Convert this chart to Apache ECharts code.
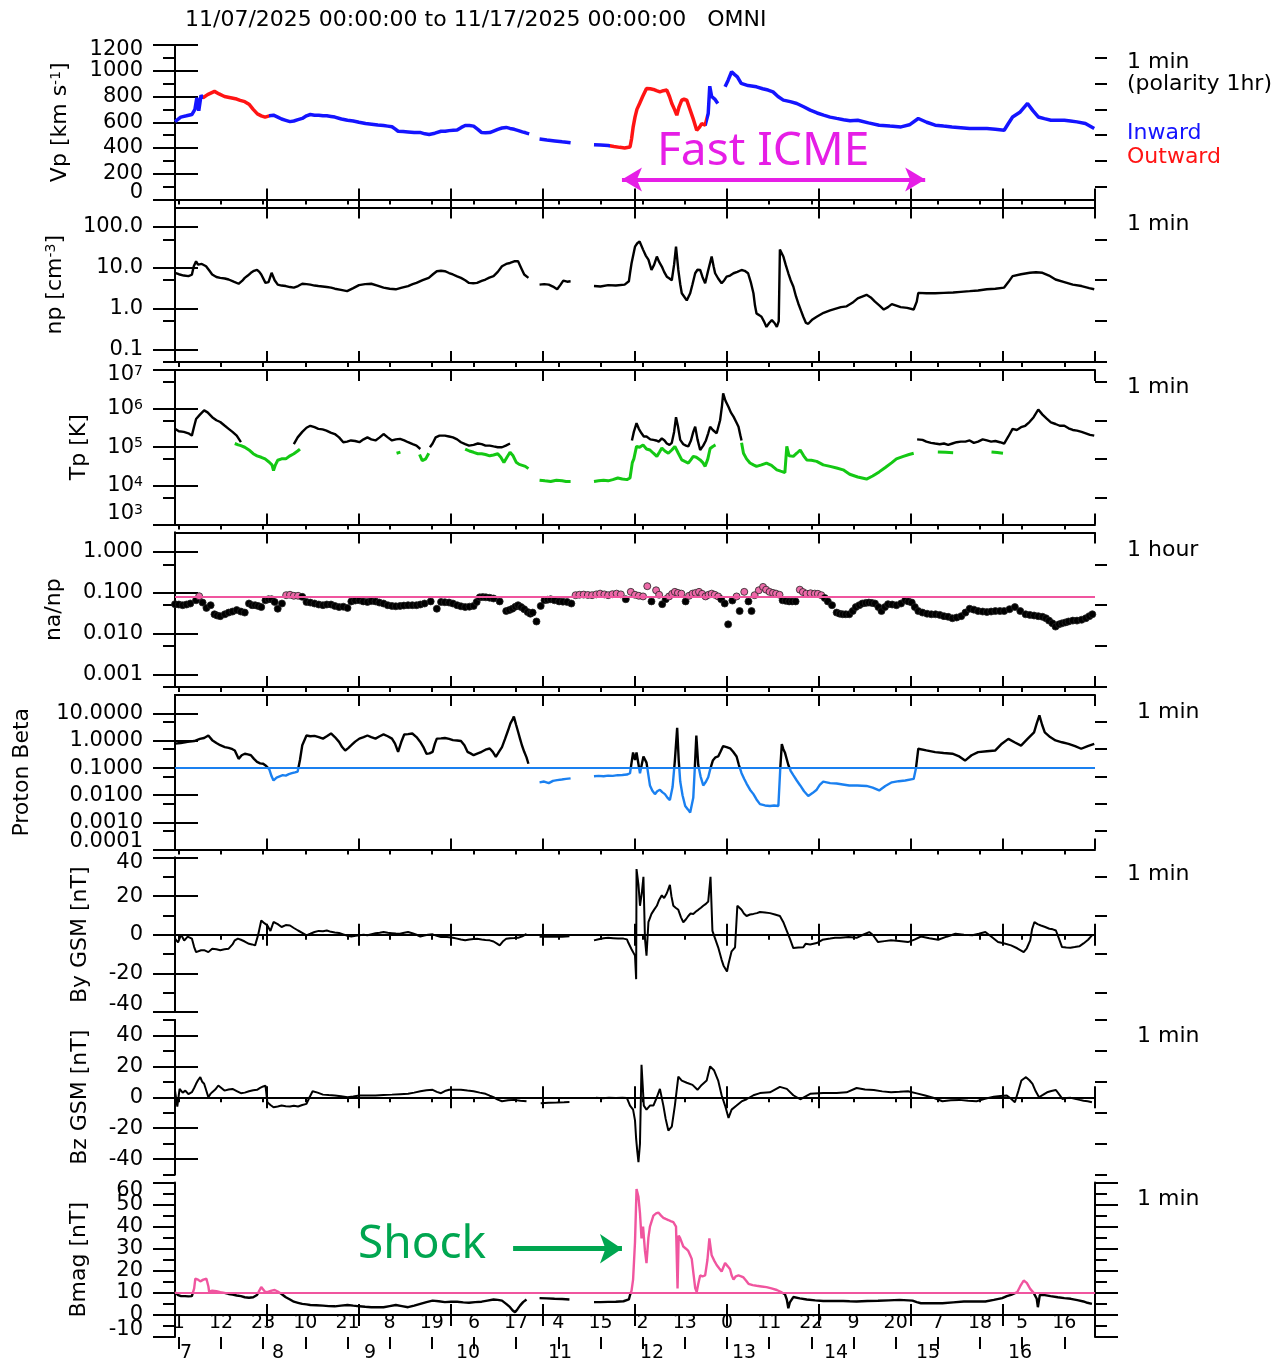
<!DOCTYPE html>
<html>
<head>
<meta charset="utf-8">
<script src="https://cdn.jsdelivr.net/npm/echarts@6.0.0/dist/echarts.min.js"></script>
<style>
html,body{margin:0;padding:0;background:#ffffff;}
#chart{width:1274px;height:1369px;}
</style>
</head>
<body>
<div id="chart"></div>
<script>
// ---------------- DATA (hours since 11/07/2025 00:00) ----------------
const dayTicks = [0, 24, 48, 72, 96, 120, 144, 168, 192, 216, 240];
const dayLabels = ['7', '8', '9', '10', '11', '12', '13', '14', '15', '16'];
const hourTicks = [1, 12, 23, 34, 45, 56, 67, 78, 89, 100, 111, 122, 133, 144, 155, 166, 177, 188, 199, 210, 221, 232];

const vpMajor = [0, 200, 400, 600, 800, 1000, 1200];
const vpMinor = [100, 300, 500, 700, 900, 1100];
const npMajor = [0.1, 1, 10, 100];
const npMinor = [0.05, 0.5, 5, 50];
const tpMajor = [1e3, 1e4, 1e5, 1e6, 1e7];
const tpMinor = [5e3, 5e4, 5e5, 5e6];
const naMajor = [0.001, 0.01, 0.1, 1];
const naMinor = [0.0005, 0.005, 0.05, 0.5];
const betaMajor = [0.0001, 0.001, 0.01, 0.1, 1, 10];
const betaMinor = [0.0005, 0.005, 0.05, 0.5, 5];
const byMajor = [-40, -20, 0, 20, 40];
const byMinor = [-30, -10, 10, 30];
const bzMajor = [-40, -20, 0, 20, 40];
const bzMinor = [-50, -30, -10, 10, 30, 50];
const bmagMajor = [-10, 0, 10, 20, 30, 40, 50, 60];
const bmagMinor = [-5, 5, 15, 25, 35, 45, 55];

const outwardSpans = [[7.3, 24.6], [113.5, 138.5]];
const naRef = 0.08;
const betaRef = 0.1;
const bmagRef = 10;
const icmeArrow = {from: 116.6, to: 195.7, level: 156};
const shockArrow = {from: 88.2, to: 116.6, level: 30};

const vpData = [
[0,605],[1.5,640],[3,650],[4.4,660],[5.2,700],[5.7,790],[6.2,690],[6.8,810],[7.3,790],[8.5,815],[10.3,840],[11.5,820],[12.9,800],[14.5,790],[16.1,780],[17,770],[18.2,760],[19.3,740],[20.4,700],[21.5,665],[22.5,650],[23.5,640],[24.6,650],[25.7,655],[26.8,640],[27.8,625],[28.9,615],[30,605],[31,610],[32.1,620],[33.2,630],[34.3,650],[35.3,660],[36.4,655],[37.5,655],[38.6,650],[39.6,650],[40.7,645],[41.7,640],[43.4,625],[45,615],[46.5,610],[48,600],[49.7,590],[51.3,585],[52.9,578],[54.4,575],[55.5,570],[56.6,565],[57.4,548],[58.2,530],[59.5,528],[60.8,525],[62.4,520],[64.1,520],[65.2,510],[66.3,505],[67.8,515],[69.4,530],[70.5,530],[71.5,535],[72.6,538],[73.6,540],[74.7,560],[75.7,575],[76.8,575],[77.9,570],[79,545],[80,520],[81,518],[82.1,520],[83.1,532],[84.2,545],[85.3,555],[86.4,560],[87.4,552],[88.5,545],[89.6,535],[90.6,525],[91.5,518],[92.4,510],[93,'-'],
[95.1,470],[97,462],[99.1,455],[101,448],[103.2,440],[104,'-'],
[109.3,425],[111,423],[113,420],[114.5,412],[116,405],[117.3,400],[118.7,408],[119.1,470],[119.5,560],[120,640],[120.5,700],[121.2,746],[122,800],[123,863],[124,860],[124.8,855],[125.6,845],[126.5,836],[127.4,845],[128.3,850],[129,800],[129.6,746],[130.3,700],[130.9,655],[131.5,720],[132.2,772],[132.8,780],[133.5,772],[134.4,694],[135.3,616],[136.1,538],[136.8,560],[137.4,590],[138.3,577],[139.1,668],[139.5,880],[140,800],[140.8,780],[141.6,746],[142,'-'],
[143.5,875],[144.3,927],[145.2,992],[146,970],[146.7,953],[147.7,902],[149.5,885],[151.7,875],[153.3,860],[154.7,850],[156,836],[157.3,800],[158.7,772],[160.5,760],[162.2,746],[164,720],[165.7,694],[167.5,672],[169.2,655],[170.9,640],[172.6,630],[174.4,620],[176.1,611],[178.1,616],[180.9,595],[183.7,577],[186.5,570],[189.4,564],[191.6,580],[193.9,629],[196.1,600],[198.3,577],[200.5,570],[202.7,564],[205,558],[207.3,551],[209.5,551],[211.8,551],[214,545],[216.3,538],[217.4,590],[218.5,641],[220.5,680],[222.4,746],[223.8,690],[225.2,641],[226.8,628],[228.5,616],[230.3,616],[232,616],[233.6,610],[235.3,603],[237.5,590],[239.8,551]
];

const npData = [
[0,7.6],[1,7],[2.3,6.5],[3.5,6.3],[4.4,6.8],[4.9,11],[5.5,14.5],[6,12],[7,12.5],[8.1,11],[9,8.5],[9.7,6.9],[10.8,6],[11.8,5.7],[13,5.5],[14,5.2],[15.3,4.6],[16.6,4.1],[17.5,4.8],[18.2,5.7],[19,6.5],[19.8,7.6],[20.6,8.5],[21.4,9],[22,8],[22.5,6.9],[23.6,4.3],[24.4,4.5],[25.2,7.6],[26,5],[26.8,3.9],[27.8,3.7],[28.9,3.6],[30,3.4],[31,3.3],[32.1,3.6],[33.2,4.1],[34.3,4],[35.3,3.9],[36.4,3.7],[37.4,3.6],[38.5,3.5],[39.6,3.4],[40.7,3.3],[41.7,3.1],[43.3,2.9],[44.9,2.7],[46.5,3.2],[48,3.8],[49.6,4],[51.2,4.1],[52.8,3.7],[54.4,3.3],[56,3.1],[57.6,3.0],[59.2,3.3],[60.8,3.6],[62,4],[63,4.3],[64.6,5],[66.2,5.7],[67.3,7],[68.3,8.3],[69.4,8.5],[70.4,8.3],[71.5,7.5],[72.5,6.9],[73.6,6.2],[74.6,5.7],[75.7,5],[76.7,4.3],[77.8,4.2],[78.8,4.3],[80,4.8],[81,5.2],[82,5.8],[83.1,6.3],[84.2,8],[85.3,11],[86.4,12.5],[87.4,13.2],[88.5,14.5],[89.5,14.5],[90.3,10],[91.1,6.9],[92.2,5.7],[93,'-'],
[95.1,3.9],[96.3,4],[97.5,3.9],[98.6,3.5],[99.7,3.0],[100.5,3.8],[101.3,4.9],[102.3,4.6],[103.2,4.7],[104,'-'],
[109.3,3.6],[111,3.5],[113,3.8],[115,3.7],[117.3,3.9],[118.4,4.7],[118.7,7.4],[119.1,13],[120,33],[120.6,40],[121.2,44],[122.1,28],[122.8,20],[123.5,16],[124.3,8.9],[125,12],[125.7,19],[126.3,14],[127,10.8],[127.6,8],[128.3,6.1],[129,5.5],[129.6,5],[130.2,12],[130.7,33],[131.3,8.9],[131.8,4],[132.2,2.4],[132.8,2],[133.5,1.6],[134.4,2.4],[135,4],[135.7,7.4],[136.3,9],[137,8.9],[137.6,6],[138.3,4.2],[139,8],[140,19],[140.5,11],[140.9,7.4],[141.7,5.5],[142.6,4.2],[143.3,5],[143.9,6.1],[144.8,6.5],[145.7,7.4],[146.7,8],[147.8,8.9],[148.6,8.5],[149.5,7.4],[150.2,4.5],[150.9,2.4],[151.3,1.2],[151.7,0.77],[152.4,0.7],[153,0.64],[153.6,0.5],[154.3,0.36],[155,0.45],[155.7,0.53],[156.4,0.45],[157,0.36],[157.5,0.5],[157.8,28],[158.7,19],[159.3,12],[160,7.4],[160.6,5],[161.3,3.5],[162,2],[162.6,1.35],[163.3,0.9],[163.9,0.64],[164.6,0.45],[165.2,0.43],[166.3,0.55],[167.4,0.64],[169.2,0.8],[170.9,0.92],[173.7,1.1],[175.2,1.15],[176.7,1.4],[178.1,1.8],[180.4,2.2],[181.5,1.9],[182.6,1.5],[183.8,1.2],[184.9,0.96],[186,1.1],[187,1.3],[189.3,1.1],[191,1.05],[192.7,0.96],[193.5,1.5],[193.9,2.45],[196,2.4],[198.3,2.4],[200.6,2.45],[203,2.5],[205,2.6],[207.3,2.7],[209.5,2.8],[211.8,3],[214,3.1],[216.3,3.3],[217.4,4.5],[218.5,6.3],[220.7,7],[223,7.6],[224.6,7.8],[226.3,7.6],[228,6.5],[229.7,5.2],[232,4.5],[234.2,3.9],[236.5,3.6],[238.5,3.2],[239.8,3.0]
];

const tpHot = [
[0,3e5],[1,2.6e5],[2.3,2.5e5],[3.5,2.3e5],[4.4,2.0e5],[5,3.5e5],[5.5,5.4e5],[6.5,7e5],[7.6,9e5],[8.5,8e5],[9.7,6e5],[10.8,5e5],[11.8,4.5e5],[13,3.6e5],[14,3e5],[15,2.5e5],[16.1,2e5],[17.2,1.35e5],[17.8,'-'],
[31,1.2e5],[32,1.8e5],[33.2,2.5e5],[34.3,3.2e5],[35.3,3.6e5],[36.4,3.3e5],[37.4,3.0e5],[38.5,2.9e5],[39.5,2.7e5],[40.6,2.4e5],[41.7,2.2e5],[42.8,1.8e5],[43.9,1.35e5],[44.9,1.4e5],[45.9,1.5e5],[47,1.45e5],[48.1,1.35e5],[49.2,1.6e5],[50.2,1.8e5],[51.2,1.6e5],[52.3,1.5e5],[53.4,1.8e5],[54.4,2.2e5],[55.5,1.8e5],[56.6,1.5e5],[57.6,1.6e5],[58.7,1.65e5],[59.8,1.5e5],[60.8,1.35e5],[62,1.2e5],[63,1.1e5],[64,0.9e5],[65,'-'],
[66.5,1e5],[67.2,1.25e5],[68,1.8e5],[69,2e5],[70.4,2e5],[71.5,1.9e5],[72.5,1.8e5],[73.6,1.6e5],[74.6,1.35e5],[75.7,1.2e5],[76.7,1.1e5],[77.9,1.15e5],[79,1.25e5],[80,1.2e5],[81,1.1e5],[82.1,1.1e5],[83.1,1.05e5],[84.2,1.0e5],[85.3,1.0e5],[86.3,1.1e5],[87.4,1.25e5],[88,'-'],
[119.2,1.5e5],[119.7,2.5e5],[120.4,4.2e5],[121,3e5],[121.7,2.3e5],[122.3,1.9e5],[123,1.9e5],[124,1.6e5],[124.8,1.55e5],[125.5,1.5e5],[126.2,1.4e5],[127,1.7e5],[127.7,1.5e5],[128.3,1.25e5],[129,1.15e5],[129.6,1.3e5],[130.2,2.5e5],[130.7,6e5],[131.2,3.5e5],[131.8,1.55e5],[132.6,1.2e5],[133.3,1.1e5],[133.9,1.05e5],[134.6,1.5e5],[135.2,2.5e5],[135.7,3.4e5],[136.3,1.6e5],[137,0.85e5],[137.8,1.1e5],[138.5,1.5e5],[139.1,2.3e5],[139.6,3.4e5],[140.3,2.8e5],[141.3,2.3e5],[142.2,5e5],[142.7,1.2e6],[143,2.5e6],[143.6,1.6e6],[144.4,1.1e6],[145,8e5],[145.7,6.2e5],[146.4,4.5e5],[147,3.4e5],[147.5,2e5],[147.8,1.5e5],[148.3,'-'],
[193.6,1.6e5],[194,1.7e5],[195,1.55e5],[196,1.4e5],[197.2,1.3e5],[198.3,1.25e5],[199.5,1.2e5],[200.6,1.25e5],[201.7,1.15e5],[202.8,1.25e5],[203.9,1.35e5],[205,1.4e5],[206.2,1.4e5],[207.3,1.5e5],[208.4,1.3e5],[209.5,1.4e5],[210.7,1.6e5],[211.8,1.5e5],[212.9,1.4e5],[214,1.45e5],[215.2,1.35e5],[216.3,1.25e5],[217.4,1.9e5],[218.5,3e5],[219.6,2.8e5],[220.7,3.3e5],[221.8,3.6e5],[222.9,4.5e5],[224,6e5],[225.2,9.5e5],[226.3,7e5],[227.4,5.5e5],[228.5,4.4e5],[229.7,4e5],[230.8,3.6e5],[232,3.6e5],[233.1,3.1e5],[234.2,2.8e5],[235.3,2.7e5],[236.5,2.5e5],[237.6,2.3e5],[238.7,2.1e5],[239.8,2e5]
];

const tpCold = [
[15.6,1.25e5],[16.5,1.15e5],[17.2,1.1e5],[18.2,1e5],[19.3,8.5e4],[20.4,6.8e4],[21.4,6e4],[22.5,5.5e4],[23.5,5e4],[24.6,4.1e4],[25.3,3.5e4],[25.7,2.5e4],[26.2,3.5e4],[26.8,4.6e4],[27.8,5e4],[28.9,5e4],[30,6e4],[31,6.8e4],[32,8e4],[32.6,9e4],[33,'-'],
[57.8,7e4],[58.8,7.5e4],[59.3,'-'],
[63.8,6.5e4],[64.5,4.5e4],[65.4,5e4],[66.2,7e4],[66.8,'-'],
[75.7,9e4],[76.8,8e4],[77.9,7.4e4],[79,6.8e4],[80,6.8e4],[81,6.5e4],[82.1,6e4],[83.1,6.3e4],[84.2,6.8e4],[85,5.5e4],[85.8,4e4],[86.6,5.5e4],[87.4,7.4e4],[88.2,6e4],[89,4.1e4],[89.8,3.6e4],[90.6,3.4e4],[91.4,3.2e4],[92.2,2.8e4],[93,'-'],
[95.1,1.4e4],[96.5,1.35e4],[98,1.3e4],[99.5,1.4e4],[101,1.35e4],[102,1.3e4],[103.2,1.3e4],[104,'-'],
[109.3,1.3e4],[110.5,1.35e4],[111.8,1.4e4],[113,1.35e4],[114.2,1.45e4],[115.5,1.6e4],[116.7,1.5e4],[117.9,1.45e4],[118.7,1.6e4],[119.3,4e4],[119.7,5e4],[120.4,1.05e5],[121.2,1.0e5],[122.1,1.15e5],[123,9e4],[123.9,8.5e4],[124.8,7e4],[125.7,5.8e4],[126.4,7.5e4],[127,9.5e4],[127.8,8e4],[128.7,7e4],[129.6,8.5e4],[130.4,1.05e5],[131.3,7e4],[132.2,4.7e4],[133,4.3e4],[133.9,3.9e4],[134.6,4.8e4],[135.2,5.8e4],[136,5.5e4],[137,4.7e4],[137.7,4e4],[138.3,3.2e4],[139,5e4],[139.6,9.3e4],[140.3,1.05e5],[141,1.15e5],[141.5,'-'],
[147.8,1.3e5],[148.3,7e4],[149.1,5e4],[150,3.9e4],[150.9,3.5e4],[151.7,3.2e4],[153,3.5e4],[154.3,3.9e4],[155.6,3.4e4],[157,2.6e4],[158,2.4e4],[159.1,2.2e4],[159.6,1.05e5],[160.2,6e4],[161.3,5.8e4],[162.2,7e4],[163.1,8.5e4],[164,6e4],[164.8,4.7e4],[166,4.6e4],[167.4,4.3e4],[169.1,3.5e4],[170.9,3.2e4],[172.6,2.9e4],[174.3,2.6e4],[176,2e4],[178.1,1.7e4],[180.4,1.5e4],[182,1.8e4],[183.7,2.3e4],[185.3,3e4],[187,4e4],[188.2,5e4],[190,5.8e4],[191.5,6.5e4],[192.7,7e4],[193.2,'-'],
[199,7.5e4],[201,7.4e4],[203,7.2e4],[205,'-'],
[213,7.5e4],[214.5,7.3e4],[216,7e4]
];

const naData = [
[0,0.053],[1,0.052],[2,0.05],[3,0.052],[4,0.055],[5.5,0.066],[6.3,0.083],[7.2,0.058],[8.2,0.043],[9.3,0.05],[10.3,0.03],[11,0.028],[11.8,0.027],[13,0.03],[14,0.033],[15,0.035],[16.1,0.038],[17.2,0.035],[18.2,0.033],[19.3,0.055],[20.1,0.05],[20.9,0.05],[21.7,0.048],[22.5,0.045],[23.6,0.066],[24.4,0.07],[25.2,0.07],[26,0.06],[26.8,0.041],[27.9,0.055],[29,0.088],[30,0.09],[31,0.085],[32.1,0.085],[33.2,0.08],[34.3,0.06],[35.3,0.058],[36.4,0.055],[37.5,0.052],[38.6,0.05],[39.6,0.052],[40.7,0.052],[41.7,0.048],[42.8,0.045],[43.9,0.046],[45,0.043],[46,0.062],[47,0.065],[48.1,0.066],[49.1,0.062],[50.2,0.06],[51.2,0.063],[52.3,0.062],[53.3,0.058],[54.4,0.055],[55.5,0.05],[56.6,0.048],[57.6,0.047],[58.7,0.048],[59.7,0.049],[60.8,0.05],[61.9,0.05],[63,0.05],[64,0.052],[65.1,0.055],[66.7,0.062],[68.3,0.041],[69.4,0.06],[70.4,0.059],[71.5,0.058],[72.5,0.055],[73.6,0.05],[74.6,0.047],[75.7,0.045],[76.8,0.046],[77.9,0.048],[78.7,0.06],[79.5,0.078],[80.3,0.079],[81.1,0.078],[82.1,0.076],[83.1,0.073],[84.7,0.062],[86.4,0.036],[87.2,0.038],[88,0.041],[88.8,0.046],[89.5,0.05],[90.3,0.045],[91.1,0.04],[92,0.034],[92.7,0.031],[93.3,0.033],[94.3,0.02],[95.4,0.048],[96.4,0.066],[97.2,0.068],[98,0.07],[99,0.066],[100.2,0.062],[101.2,0.061],[102.3,0.06],[103.4,0.055],[104.5,0.088],[105.5,0.09],[106.6,0.091],[107.7,0.089],[108.8,0.088],[109.9,0.092],[110.9,0.096],[112,0.092],[113,0.088],[114.1,0.093],[115.2,0.096],[116.3,0.092],[117.6,0.07],[118.9,0.106],
[120,0.09],[121,0.085],[122.1,0.082],[123.2,0.146],[124.3,0.062],[125.5,0.116],[126.3,0.09],[127.1,0.053],[128,0.07],[128.9,0.082],[129.7,0.095],[130.4,0.106],[131.2,0.1],[132.1,0.096],[133.2,0.062],[134.1,0.085],[135,0.096],[135.8,0.1],[136.7,0.106],[137.5,0.095],[138.4,0.082],[139.2,0.09],[140,0.096],[140.8,0.09],[141.7,0.082],[142.5,0.07],[143.4,0.055],[144.3,0.017],[145.4,0.065],[146.5,0.082],[147.3,0.036],[148.5,0.106],[149.6,0.062],[150.4,0.036],[151.2,0.088],[152.3,0.116],[153.4,0.14],[154.2,0.12],[155.1,0.106],[156,0.1],[156.8,0.096],[157.7,0.09],[158.5,0.066],[159.3,0.064],[160.2,0.062],[161,0.062],[161.9,0.062],[163,0.12],[163.8,0.105],[164.7,0.096],[165.8,0.098],[166.9,0.096],[167.7,0.095],[168.6,0.088],[169.5,0.075],[170.3,0.062],[171.4,0.05],[172.6,0.033],[173.4,0.031],[174.2,0.03],[175,0.03],[175.9,0.03],[176.8,0.036],[177.6,0.045],[178.5,0.05],[179.3,0.055],[180.2,0.057],[181,0.058],[181.8,0.057],[182.6,0.055],[183.5,0.045],[184.3,0.036],[185.2,0.045],[186,0.053],[187.1,0.052],[188.2,0.05],[189.4,0.055],[190.5,0.066],[191.3,0.062],[192.2,0.058],[193,0.045],[193.9,0.036],[195,0.033],[196.2,0.031],[197.3,0.03],[198.4,0.03],[199.5,0.029],[200.6,0.027],[201.7,0.026],[202.8,0.024],[203.9,0.025],[205.1,0.027],[206.2,0.033],[207.3,0.041],[208.4,0.039],[209.5,0.036],[210.7,0.035],[211.8,0.034],[212.9,0.035],[214,0.036],[215.2,0.036],[216.3,0.036],[217.7,0.04],[219.1,0.045],[220.5,0.036],[221.9,0.03],[223,0.029],[224.1,0.028],[225.2,0.027],[226.3,0.026],[227.2,0.024],[228,0.021],[228.9,0.018],[229.7,0.015],[230.6,0.017],[231.4,0.018],[232.3,0.019],[233.1,0.02],[234.2,0.021],[235.3,0.021],[236.5,0.022],[237.6,0.024],[238.5,0.027],[239.3,0.03]
];

const betaData = [
[0,0.8],[1.5,0.85],[3.3,0.93],[5,1.0],[6.5,1.2],[7.6,1.3],[8.7,1.6],[9.7,1.08],[10.8,0.85],[11.8,0.7],[13,0.6],[14,0.56],[15,0.5],[15.6,0.45],[16.6,0.22],[17.4,0.3],[18.2,0.34],[19,0.32],[19.8,0.3],[20.6,0.22],[21.4,0.17],[22.2,0.15],[23,0.145],[23.8,0.12],[24.6,0.09],[25.2,0.05],[25.7,0.035],[26.5,0.045],[27.3,0.05],[28.1,0.055],[28.9,0.053],[29.7,0.06],[30.5,0.065],[31.3,0.07],[32,0.075],[32.6,0.2],[33.2,0.7],[34.3,1.6],[35.3,1.5],[36.4,1.55],[37.5,1.4],[38.6,1.23],[39.6,1.5],[40.7,1.9],[41.7,1.4],[42.8,0.93],[43.6,0.6],[44.4,0.45],[45.2,0.55],[46,0.7],[47,0.95],[48.1,1.23],[49.2,1.4],[50.2,1.6],[51.2,1.4],[52.3,1.23],[53.4,1.5],[54.4,1.75],[55.5,1.5],[56.6,1.23],[57.4,0.8],[58.2,0.4],[59,0.9],[59.8,1.75],[60.8,1.8],[61.9,1.9],[63,1.4],[64,0.93],[64.8,0.6],[65.6,0.34],[66.4,0.35],[67.2,0.4],[67.8,0.8],[68.3,1.23],[69.4,1.25],[70.4,1.3],[71.5,1.2],[72.5,1.08],[73.6,1.05],[74.6,1.0],[75.5,0.7],[76.3,0.4],[77.1,0.35],[77.9,0.3],[79,0.35],[80,0.4],[81,0.48],[82.1,0.53],[82.9,0.4],[83.7,0.26],[84.5,0.4],[85.3,0.6],[86.1,1.2],[86.9,2.5],[87.5,4.5],[88,6],[88.4,8],[89,3.9],[89.5,2.2],[90,1.23],[90.5,0.7],[91.1,0.4],[91.7,0.25],[92.2,0.145],[93,'-'],
[95.1,0.03],[96.3,0.032],[97.5,0.028],[98.6,0.034],[99.7,0.036],[100.9,0.038],[102,0.04],[103.2,0.042],[104,'-'],
[109.3,0.05],[110.5,0.052],[111.8,0.05],[113,0.053],[114.2,0.052],[115.5,0.055],[116.7,0.056],[117.9,0.058],[118.7,0.065],[119.5,0.38],[120,0.2],[120.4,0.38],[121.3,0.065],[122.2,0.27],[123,0.16],[123.9,0.023],[124.5,0.015],[125.2,0.011],[125.8,0.014],[126.5,0.016],[127.1,0.013],[127.8,0.011],[128.5,0.008],[129.1,0.0066],[129.8,0.02],[130.4,0.19],[131,3.1],[131.4,0.2],[131.8,0.032],[132.4,0.01],[133.1,0.004],[133.8,0.003],[134.4,0.0023],[135.2,0.008],[135.6,0.1],[136,1.6],[136.5,0.13],[137.1,0.05],[137.8,0.023],[138.4,0.03],[139.1,0.046],[139.7,0.1],[140.3,0.19],[141,0.25],[141.7,0.27],[142.3,0.4],[143,0.65],[143.9,0.6],[144.8,0.54],[145.6,0.4],[146.5,0.27],[147.1,0.13],[147.8,0.065],[148.5,0.04],[149.1,0.027],[150,0.016],[150.9,0.011],[151.7,0.007],[152.6,0.0047],[153.9,0.0042],[155.2,0.004],[156.3,0.0042],[157.4,0.004],[157.9,0.1],[158.3,0.77],[158.7,0.5],[159.1,0.38],[160,0.13],[160.6,0.08],[161.3,0.055],[162.2,0.035],[163.1,0.023],[164.1,0.014],[165.2,0.0094],[166.3,0.012],[167.4,0.016],[168.2,0.024],[169.1,0.032],[170.9,0.028],[172.6,0.027],[174.2,0.025],[175.9,0.023],[178,0.023],[180.4,0.022],[182,0.019],[183.7,0.015],[185.3,0.022],[187,0.03],[188.8,0.033],[190.5,0.035],[192.7,0.04],[193.3,0.1],[193.9,0.52],[196,0.45],[198.3,0.39],[200.5,0.36],[202.8,0.34],[204.4,0.28],[206.1,0.19],[207.8,0.3],[209.5,0.39],[211.8,0.42],[214,0.45],[215.7,0.8],[217.4,1.2],[219,0.9],[220.7,0.68],[222.4,1.2],[224.1,2.1],[224.8,4.5],[225.5,8.8],[226.2,4],[226.9,2.1],[228.3,1.4],[229.7,1.05],[231.4,0.9],[233.1,0.79],[234.8,0.65],[236.4,0.52],[238.1,0.65],[239.8,0.79]
];

const byData = [
[0,-2],[0.8,-4],[1.6,0],[2.4,-3],[3.3,-1],[4.4,-2],[5,-6.4],[5.5,-9],[6,-10],[6.8,-8],[7.6,-8],[8.7,-9],[9.7,-7.2],[10.8,-7.5],[11.8,-8],[12.9,-7.5],[14,-7.2],[15,-5],[15.6,-2.9],[16.4,-2],[17.2,-2.6],[18.2,-3.5],[19.3,-4.7],[20.1,-5],[20.9,-5.5],[21.7,0],[22.5,7.4],[23.3,6],[24.1,4.8],[24.9,2],[25.7,6.6],[26.8,5.5],[27.8,4],[28.9,5],[30,4.8],[31,3.5],[32.1,2.2],[33.2,1],[34.3,-0.3],[35.3,0.5],[36.4,1.4],[37.5,2],[38.6,1.8],[39.6,2.2],[40.7,1.5],[41.7,1.2],[42.8,0.9],[43.9,0.2],[45,-0.5],[46,-0.9],[47.1,-0.5],[48.1,-0.2],[49.2,0],[50.2,-0.3],[51.3,0.3],[52.3,0.8],[53.4,1],[54.4,1.4],[55.5,1],[56.6,0.8],[57.6,0.6],[58.7,0.5],[59.8,1],[60.8,1.4],[61.9,0.8],[63,0],[64,-0.9],[65,-0.4],[66,0],[67.2,0.2],[68.3,-0.6],[69.4,-1.2],[70.4,-1],[71.5,-1.3],[72.5,-1.6],[73.6,-2],[74.6,-2.5],[75.7,-2.9],[76.8,-2.5],[77.9,-2.2],[78.8,-2.1],[80,-2.5],[81,-2.7],[82.1,-2.9],[83.1,-3.5],[83.9,-4.5],[84.7,-5.5],[85.5,-3.5],[86.4,-2.1],[87.4,-1.8],[88.5,-1.7],[89.5,-1.6],[90.6,-0.8],[91.7,0.5],[92,'-'],
[95.1,-1],[97,-0.9],[99,-1],[101,-1],[102.9,-0.8],[103.5,'-'],
[109.3,-2.9],[110.5,-2.3],[111.8,-1.8],[113,-1.6],[114.3,-1.8],[115.6,-2],[117,-2],[117.9,-2.4],[118.3,-4.3],[119.1,-7.5],[120,-10.8],[120.3,-23],[120.4,34],[120.9,26],[121.3,15],[121.8,22],[122.2,30],[122.6,-2],[123,-10.8],[123.5,6.5],[124.3,10.8],[125,13],[125.7,15],[126.3,18],[127,20.4],[127.6,19],[128.3,21.5],[129.1,25.8],[129.5,20],[130,15],[130.6,14],[131.3,12.9],[132,9],[132.6,6.5],[133.3,8],[133.9,9.7],[134.5,11],[135.2,10.8],[135.9,12],[136.5,12.9],[137.2,14],[137.8,15],[138.5,16],[139.1,17.2],[139.7,30],[140.2,2],[140.9,-2],[141.7,-6.5],[142.6,-13],[143.1,-16],[143.5,-17],[144,-19],[144.4,-15],[145.2,-8.6],[146.1,-6.5],[146.7,15],[147.2,14],[147.8,12.9],[148.4,11],[149.1,9.7],[150,10.5],[150.9,10.8],[151.8,11.2],[152.6,11.8],[153.9,11.5],[155.2,11.2],[156.5,10.5],[157.8,9.7],[158.7,6.5],[159.6,2],[160.4,-2],[161.3,-6.9],[162.6,-6.6],[163.9,-6.5],[164.5,-4.7],[165.7,-5],[167.4,-4.3],[168.9,-2.6],[170.9,-2],[172.2,-1.6],[173.6,-1.6],[175.7,-1.2],[177.8,-1.6],[179.5,0],[181.1,1.4],[182,0],[183.4,-3.8],[185.1,-3.3],[186.8,-2.9],[188.9,-3.2],[191.2,-3.8],[192.9,-2.5],[194.6,-0.9],[196.8,-1.8],[199.1,-2.6],[201.3,-1],[203.6,0.5],[205.8,0],[208,-0.3],[209.7,0.5],[211.4,1.4],[213,-1],[214.7,-3.8],[216.4,-4.5],[218.1,-5.5],[219.7,-7],[221.4,-9],[222.2,-7],[223.1,-2.9],[223.6,3],[224.2,6.6],[225,5.5],[225.9,4.8],[227,4],[228.1,3.1],[229,2.8],[229.8,2.2],[230.6,-2],[231.4,-6.4],[232.5,-6.6],[233.6,-6.7],[234.7,-6.4],[235.9,-6],[237,-4.5],[238.2,-2.6],[239.2,-0.3]
];

const bzData = [
[0,4.3],[0.6,-6],[1.2,5.4],[2,3],[2.7,4.3],[3.5,2],[4.4,3.3],[5,6],[5.5,8.7],[6,11],[6.6,13],[7.1,10],[7.6,8.7],[8.2,4],[8.7,0],[9.2,2],[9.7,3.3],[10.5,5],[11.3,7.6],[12.1,6],[12.9,4.3],[14,5],[15,5.4],[16.1,4],[17.2,2.6],[18.2,3],[19.3,3.9],[20.4,4.5],[21.4,4.8],[22.2,6],[23,7],[23.6,7.5],[24.1,-3.3],[24.9,-5],[25.7,-6.5],[26.8,-6],[27.8,-5.4],[28.9,-5.8],[30,-6],[31,-5.5],[32.1,-6],[33.2,-5],[34.3,-4.3],[35.1,0],[35.9,3.9],[37.2,3],[38.6,1.7],[40.1,1.4],[41.7,1.1],[43.3,0.6],[45,0],[46.5,0.5],[48.1,1.1],[50.2,1.2],[52.3,1.1],[54.4,1.4],[56.6,1.7],[58.7,2],[60.8,2.2],[62.4,3],[64,3.9],[65.6,4.5],[67.2,4.8],[68.3,3.5],[69.4,2.6],[70.4,4],[71.5,4.8],[73,4.8],[74.6,4.8],[76.3,4.3],[77.9,3.9],[79.5,3],[81,2.2],[82.1,1],[83.1,0],[84.2,-1.5],[85.3,-2.6],[86.9,-2],[88.5,-1.7],[90.1,-2.2],[91.7,-2.6],[92,'-'],
[95.4,-3.9],[97.5,-3.6],[99.6,-3.4],[101.5,-3.2],[102.9,-3],[103.5,'-'],
[109.8,-0.4],[111.5,-0.6],[113.2,-0.4],[115,-0.5],[116.7,-0.4],[117.9,-0.5],[118.7,-5.4],[119.5,-8],[120,-15],[120.3,-27],[120.6,-35],[120.9,-42],[121.3,-30],[121.7,21],[122,8],[122.3,-5.4],[123,-8],[123.9,-5.4],[124.8,-5.4],[125.7,0],[126.5,5.4],[127.4,-5.4],[128,-14],[128.7,-21.5],[129.6,-19],[130.4,-5.4],[131.3,13.4],[132.2,10.8],[133.5,9.4],[135,8],[136.3,4.8],[137.4,8],[138.7,10.8],[139.6,20],[140.6,17.5],[141.7,10.8],[142.6,1.3],[143.5,-5.4],[144.4,-13.4],[145.2,-8],[146.5,-5.4],[147.8,-2.7],[149.1,-1.3],[150.9,1.3],[152.6,2.7],[155.2,3.2],[157.8,6.7],[159.6,5.4],[161.3,1.3],[163.1,-1.3],[165.7,2.2],[169.1,2.7],[172.6,2.7],[175.2,3.2],[177.8,6],[180,5],[182.3,4.7],[184.5,3.8],[186.8,3.2],[189,3.5],[191.2,3.9],[193.5,2.5],[195.7,1.1],[198,-0.5],[200.2,-2.6],[202.4,-2],[204.6,-1.7],[206.9,-2.2],[209.1,-2.6],[211.3,-1],[213.6,0.4],[215.3,0.8],[217,1.1],[218.1,-1],[219.1,-3.2],[220,4],[220.8,10.8],[221.4,12],[222,13],[222.9,11],[223.7,8.6],[224.5,4],[225.4,0],[226.4,1.5],[227.5,3.2],[228.6,4],[229.8,4.7],[230.6,2],[231.5,-1.1],[232.6,-0.5],[233.7,-0.4],[234.8,-1],[236,-1.7],[237,-2.2],[238.1,-2.6],[239.2,-3.2]
];

const bmagData = [
[0,10.3],[0.8,9],[1.6,8.5],[2.6,8.5],[3.5,8.4],[4.4,8.5],[5,12],[5.3,16.4],[6,16],[6.6,15.2],[7.4,16],[8.2,16.4],[8.7,13],[8.9,10.6],[9.7,11],[10.8,10.8],[11.8,10.3],[12.9,10],[14,9.5],[15,9.2],[16.1,8.8],[17.2,8.5],[18.2,8],[19.3,7.8],[20.4,8],[21.4,9],[22,11],[22.5,12.6],[23,12],[23.6,10.3],[24.4,10.5],[25.2,11],[26,11.3],[26.8,10.6],[27.8,9.5],[28.9,8],[30,7],[31,6],[32.1,5.5],[33.2,5],[34.3,4.8],[35.3,4.5],[36.9,4.4],[38.6,4.2],[40.1,4],[41.7,3.9],[43.3,4.2],[45,4.5],[46.5,4.2],[48.1,3.9],[49.6,3.7],[51.2,3.5],[52.8,3.5],[54.4,3.5],[56,4],[57.6,4.5],[59.2,4],[60.8,3.5],[62.4,4.2],[64,5],[65.6,5.8],[67.2,6.5],[68.8,6.2],[70.4,5.8],[72,6],[73.6,6],[75.2,5.7],[76.7,5.5],[78.3,5.8],[80,6],[81.5,6.5],[83.1,7],[84.2,6.8],[85.3,6.5],[86.4,5],[87.4,3.5],[88.1,2],[88.7,1.2],[89.3,2.5],[90,4.2],[90.8,5.8],[91.7,7],[92,'-'],
[95.1,7.6],[97,7.5],[99,7.3],[101,7.2],[102.9,7],[103.5,'-'],
[109.3,5.8],[111,5.8],[113,5.9],[115,6],[117,6.2],[118.4,7],[118.7,9],[119.1,11],[119.5,16],[120,33],[120.4,57],[120.9,53.5],[121.3,46],[121.7,34.7],[122.1,40],[122.6,29],[123,23.5],[123.5,35],[123.9,40],[124.8,45],[125.5,46],[126.1,46.4],[126.8,45],[127.4,44],[128,43.5],[128.7,43],[129.3,42.5],[130,42],[130.7,40],[131.1,12],[131.4,36],[131.8,34.7],[132.6,31],[133.3,30],[133.9,29],[134.4,27],[134.8,25.4],[135.3,18],[135.7,12.2],[136.1,10.4],[136.5,14],[137,17.9],[137.6,17.5],[138.3,17.9],[138.9,25],[139.4,34.7],[140,27],[140.7,24.5],[141.3,22.6],[142,21],[142.6,19.7],[143.5,23.5],[144.2,22],[144.8,20.7],[145.2,18],[145.7,16],[146.3,17.5],[147,17.9],[147.7,17.5],[148.3,17],[149,15.5],[149.6,14.1],[150.7,13.5],[151.7,13.2],[153,12.9],[154.3,12.6],[155.6,12],[157,11.3],[158,10.5],[159.1,9.4],[159.6,7],[160,3],[160.4,5.7],[161.3,8.1],[163,7.5],[164.8,7],[167,6.6],[169.1,6.3],[171.7,6.3],[174.3,6.3],[176,6.2],[177.8,6.1],[180.6,6.3],[183.4,6.4],[186.2,6.6],[189,6.8],[192.4,6.5],[193.5,5.8],[194.6,5.3],[197.4,5.3],[200.2,5.3],[203,5.7],[205.8,6.1],[208.6,6.1],[211.4,6.1],[213.6,6.8],[215.8,7.6],[217,8.5],[218.1,9.1],[219.7,10.3],[220.5,13],[221.4,15.6],[222.2,14.5],[223.1,11.8],[224,10],[224.8,7.3],[225.1,3.5],[225.6,9],[226.5,9.1],[228.4,8.5],[230.3,8],[232,7.6],[233.7,7.3],[235.4,6.7],[237,6.1],[238,5.5],[239.2,5]
];

// ---------------- STYLE / LAYOUT ----------------
const FONT = '"DejaVu Sans", "Liberation Sans", sans-serif';
const AFONT = '"Noto Sans", "Open Sans", sans-serif';
const X_LEFT = 175, X_RIGHT = 1095, W = 1274;
const PANEL_TOP = [45, 207.5, 370, 532.5, 695, 857.5, 1020, 1182.5];
const PANEL_H = 154.5;
const MAG = '#e61ee6', GRN = '#00a650', PINK = '#f0559f', NAPINK = '#ec6aa8',
      BLUE = '#1a80f0', VPBLUE = '#1414ff', VPRED = '#ff1414', TPGREEN = '#14c814';

const LINE = {show: true, lineStyle: {color: '#000', width: 2}};
function ticks(len, inside, vals) {
  return {show: true, inside: inside, length: len, customValues: vals, lineStyle: {color: '#000', width: 2}};
}
function tag(s) { return s < 0 ? 'm' + (-s) : 'p' + s; }
function padFor(s) { return s > 0 ? [2 * s, 0, 0, 0] : (s < 0 ? [0, 0, -2 * s, 0] : [0, 0, 0, 0]); }
function labelRich(shifts) {
  const rich = {};
  [0].concat(shifts.map(d => d[1])).forEach(s => {
    rich['b' + tag(s)] = {fontSize: 21, fontFamily: FONT, color: '#000', padding: padFor(s)};
    rich['s' + tag(s)] = {fontSize: 14, fontFamily: FONT, color: '#000', verticalAlign: 'top', padding: padFor(s)};
  });
  return rich;
}
function shiftOf(p, v) {
  let s = 0;
  p.shifts.forEach(d => { if (Math.abs(d[0] - v) <= Math.abs(d[0]) * 1e-6 + 1e-12) s = d[1]; });
  return s;
}
function labelFormatter(p) {
  return function (v) {
    const parts = p.fmt(v);
    const t = tag(shiftOf(p, v));
    return '{b' + t + '|' + parts[0] + '}' + (parts[1] ? '{s' + t + '|' + parts[1] + '}' : '');
  };
}
const refLine = (val, color) => ({silent: true, symbol: 'none', animation: false, label: {show: false},
  lineStyle: {color: color, width: 2, type: 'solid'}, data: [{yAxis: val}]});

const panels = [
  {type: 'value', min: 0, max: 1200, major: vpMajor, minor: vpMinor, fmt: v => [String(v)], shifts: [[1200, 5], [0, -7]],
   name: '{n|Vp [km s}{sp|-1}{n|]}', nameCenter: 60,
   series: [{type: 'line', data: vpData, symbol: 'none', lineStyle: {width: 3.5},
     markLine: {silent: true, animation: false, symbol: ['arrow', 'arrow'], symbolSize: [18, 20], label: {show: false},
       lineStyle: {color: MAG, width: 4, type: 'solid'},
       data: [[{coord: [icmeArrow.from, icmeArrow.level]}, {coord: [icmeArrow.to, icmeArrow.level]}]]}}]},
  {type: 'log', min: 0.05, max: 300, major: npMajor, minor: npMinor, fmt: v => [v.toFixed(1)], shifts: [],
   name: '{n|np [cm}{sp|-3}{n|]}', nameCenter: 55,
   series: [{type: 'line', data: npData, symbol: 'none', lineStyle: {width: 2.4, color: '#000'}, itemStyle: {color: '#000'}}]},
  {type: 'log', min: 999, max: 1.001e7, major: tpMajor, minor: tpMinor, fmt: v => ['10', String(Math.round(Math.log10(v)))],
   shifts: [[1e7, 5], [1e3, -11]], name: '{n|Tp [K]}', nameCenter: 79,
   series: [{type: 'line', data: tpHot, symbol: 'none', lineStyle: {width: 2.4, color: '#000'}, itemStyle: {color: '#000'}},
            {type: 'line', data: tpCold, symbol: 'none', lineStyle: {width: 3, color: TPGREEN}, itemStyle: {color: TPGREEN}}]},
  {type: 'log', min: 0.0005, max: 3, major: naMajor, minor: naMinor, fmt: v => [v.toFixed(3)], shifts: [],
   name: '{n|na/np}', nameCenter: 54,
   series: [{type: 'scatter', data: naData, symbol: 'circle', symbolSize: 7,
     itemStyle: {borderColor: '#222', borderWidth: 0.8, opacity: 1}, markLine: refLine(naRef, PINK)}]},
  {type: 'log', min: 0.0000995, max: 50, major: betaMajor, minor: betaMinor, fmt: v => [v.toFixed(4)], shifts: [[0.0001, -8]],
   name: '{n|Proton Beta}', nameCenter: 22.5,
   series: [{type: 'line', data: betaData, symbol: 'none', lineStyle: {width: 2.4}, markLine: refLine(betaRef, BLUE)}]},
  {type: 'value', min: -40, max: 40, major: byMajor, minor: byMinor, fmt: v => [String(v)], shifts: [[40, 5], [-40, -7]],
   name: '{n|By GSM [nT]}', nameCenter: 80,
   series: [{type: 'line', data: byData, symbol: 'none', lineStyle: {width: 2, color: '#000'}, itemStyle: {color: '#000'}, markLine: refLine(0, '#000')}]},
  {type: 'value', min: -50, max: 50, major: bzMajor, minor: bzMinor, fmt: v => [String(v)], shifts: [],
   name: '{n|Bz GSM [nT]}', nameCenter: 80,
   series: [{type: 'line', data: bzData, symbol: 'none', lineStyle: {width: 2, color: '#000'}, itemStyle: {color: '#000'}, markLine: refLine(0, '#000')}]},
  {type: 'value', min: -10, max: 60, major: bmagMajor, minor: bmagMinor, fmt: v => [String(v)], shifts: [[60, 8], [-10, -7]],
   name: '{n|Bmag [nT]}', nameCenter: 79,
   series: [{type: 'line', data: bmagData, symbol: 'none', lineStyle: {width: 2.4},
     markLine: {silent: true, animation: false, symbol: 'none', label: {show: false},
       data: [
         {yAxis: bmagRef, lineStyle: {color: PINK, width: 2, type: 'solid'}},
         [{coord: [shockArrow.from, shockArrow.level], symbol: 'none', lineStyle: {color: GRN, width: 5, type: 'solid'}},
          {coord: [shockArrow.to, shockArrow.level], symbol: 'arrow', symbolSize: [22, 22]}]
       ]}}]}
];

const grids = [], xAxes = [], yAxes = [], series = [];
const labelBase = {fontSize: 21, fontFamily: FONT, color: '#000', hideOverlap: false, margin: 32, showMinLabel: true, showMaxLabel: true};
panels.forEach((p, i) => {
  const last = i === panels.length - 1;
  grids.push({left: X_LEFT, right: W - X_RIGHT, top: PANEL_TOP[i], height: PANEL_H, containLabel: false, outerBoundsMode: 'none'});
  const xa = xAxes.length;
  xAxes.push({gridIndex: i, type: 'value', min: 0, max: 240, position: 'bottom', axisLine: LINE, splitLine: {show: false},
    axisTick: ticks(11, true, dayTicks),
    axisLabel: last ? {show: true, inside: true, margin: 4, customValues: hourTicks, formatter: v => String(v % 24),
      fontSize: 19, fontFamily: FONT, color: '#000', hideOverlap: false, showMinLabel: true, showMaxLabel: true} : {show: false}});
  xAxes.push({gridIndex: i, type: 'value', min: 0, max: 240, position: 'top', axisLine: LINE, splitLine: {show: false},
    axisTick: ticks(11, true, dayTicks), axisLabel: {show: false}});
  if (!last) {
    xAxes.push({gridIndex: i, type: 'value', min: 0, max: 240, position: 'bottom', axisLine: {show: false}, splitLine: {show: false},
      axisTick: ticks(5, false, hourTicks), axisLabel: {show: false}});
  }
  const base = {gridIndex: i, type: p.type, min: p.min, max: p.max, splitLine: {show: false}, minorTick: {show: false}};
  if (p.type === 'log') base.logBase = 10;
  const plainVals = p.major.filter(v => shiftOf(p, v) === 0);
  const shiftedVals = p.major.filter(v => shiftOf(p, v) !== 0);
  const ya = yAxes.length;
  yAxes.push(Object.assign({}, base, {position: 'left', axisLine: LINE, axisTick: ticks(22, false, p.major),
    axisLabel: Object.assign({show: true, customValues: plainVals, formatter: labelFormatter(p), rich: labelRich(p.shifts)}, labelBase),
    name: p.name, nameLocation: 'middle', nameRotate: 90, nameGap: X_LEFT - p.nameCenter - 11, nameMoveOverlap: false,
    nameTextStyle: {fontSize: 22, fontFamily: FONT, color: '#000',
      rich: {n: {fontSize: 22, fontFamily: FONT, color: '#000'}, sp: {fontSize: 14, fontFamily: FONT, color: '#000', verticalAlign: 'top'}}}}));
  yAxes.push(Object.assign({}, base, {position: 'left', axisLine: {show: false}, axisTick: ticks(12, false, p.minor), axisLabel: {show: false}}));
  yAxes.push(Object.assign({}, base, {position: 'right', axisLine: LINE, axisTick: ticks(23, false, p.major), axisLabel: {show: false}}));
  yAxes.push(Object.assign({}, base, {position: 'right', axisLine: {show: false}, axisTick: ticks(12, false, p.minor), axisLabel: {show: false}}));
  if (shiftedVals.length) {
    // end labels nudged inward, drawn on an extra (line-less, tick-less) axis sharing the same scale
    yAxes.push(Object.assign({}, base, {position: 'left', axisLine: {show: false}, axisTick: {show: false},
      axisLabel: Object.assign({show: true, customValues: shiftedVals, formatter: labelFormatter(p), rich: labelRich(p.shifts)}, labelBase)}));
  }
  p.series.forEach(s => series.push(Object.assign({silent: true, animation: false, connectNulls: false}, s, {xAxisIndex: xa, yAxisIndex: ya})));
});

// bottom date box
const gb = grids.length;
grids.push({left: X_LEFT, right: W - X_RIGHT, top: 1337, height: 40, containLabel: false, outerBoundsMode: 'none'});
xAxes.push({gridIndex: gb, type: 'value', min: 0, max: 240, position: 'top', axisLine: LINE, splitLine: {show: false},
  axisTick: ticks(40, true, dayTicks),
  axisLabel: {show: true, inside: true, margin: 7, customValues: dayTicks.slice(0, 10), align: 'left', padding: [0, 0, 0, 5],
    formatter: v => dayLabels[Math.round(v / 24)], fontSize: 19, fontFamily: FONT, color: '#000', hideOverlap: false,
    showMinLabel: true, showMaxLabel: true}});
xAxes.push({gridIndex: gb, type: 'value', min: 0, max: 240, position: 'top', axisLine: {show: false}, splitLine: {show: false},
  axisTick: ticks(12, true, hourTicks), axisLabel: {show: false}});
yAxes.push({gridIndex: gb, type: 'value', show: false, min: 0, max: 1});

const textItems = [
  ['11/07/2025 00:00:00 to 11/17/2025 00:00:00   OMNI', 185, 20, '#000'],
  ['1 min', 1127, 62, '#000'], ['(polarity 1hr)', 1127, 84, '#000'],
  ['Inward', 1127, 133, VPBLUE], ['Outward', 1127, 157, VPRED],
  ['1 min', 1127, 224, '#000'], ['1 min', 1127, 387, '#000'], ['1 hour', 1127, 550, '#000'],
  ['1 min', 1137, 712, '#000'], ['1 min', 1127, 874, '#000'], ['1 min', 1137, 1036, '#000'], ['1 min', 1137, 1199, '#000']
];
const graphic = textItems.map(t => ({type: 'text', x: t[1], y: t[2], silent: true,
  style: {text: t[0], font: '22px ' + FONT, fill: t[3], verticalAlign: 'middle', align: 'left'}}));
graphic.push({type: 'text', x: 657, y: 152, silent: true, style: {text: 'Fast ICME', font: '46px ' + AFONT, fill: MAG, verticalAlign: 'middle'}});
graphic.push({type: 'text', x: 358, y: 1245, silent: true, style: {text: 'Shock', font: '46px ' + AFONT, fill: GRN, verticalAlign: 'middle'}});

const option = {
  animation: false,
  backgroundColor: '#ffffff',
  textStyle: {fontFamily: FONT},
  grid: grids, xAxis: xAxes, yAxis: yAxes, series: series, graphic: graphic,
  visualMap: [
    {type: 'piecewise', show: false, seriesIndex: 0, dimension: 0,
     pieces: outwardSpans.map(s => ({gte: s[0], lte: s[1], color: VPRED})), outOfRange: {color: VPBLUE}},
    {type: 'piecewise', show: false, seriesIndex: 4, dimension: 1,
     pieces: [{gt: -1, lte: naRef, color: '#000'}, {gt: naRef, lte: 100, color: NAPINK}], outOfRange: {color: '#000'}},
    {type: 'piecewise', show: false, seriesIndex: 5, dimension: 1,
     pieces: [{gte: 1e-7, lt: betaRef, color: BLUE}, {gte: betaRef, lte: 1e4, color: '#000'}], outOfRange: {color: '#000'}},
    {type: 'piecewise', show: false, seriesIndex: 8, dimension: 1,
     pieces: [{gte: -100, lt: bmagRef, color: '#000'}, {gte: bmagRef, lte: 1000, color: PINK}], outOfRange: {color: '#000'}}
  ]
};

const chart = echarts.init(document.getElementById('chart'), null, {renderer: 'canvas'});
chart.setOption(option);
</script>
</body>
</html>
